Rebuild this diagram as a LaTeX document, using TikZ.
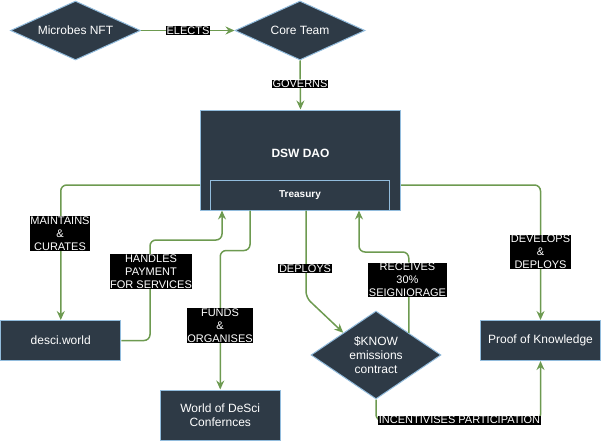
\documentclass[tikz,border=0pt]{standalone}
\usepackage{fontspec}
\setmainfont{Liberation Sans}
\usetikzlibrary{shapes.geometric,arrows.meta,calc}
\definecolor{fillc}{HTML}{2E3A46}
\definecolor{bordc}{HTML}{92BCDD}
\definecolor{edgec}{HTML}{6D9A50}
\begin{document}
\begin{tikzpicture}[x=1pt,y=-1pt,
 box/.style={draw=bordc, fill=fillc, line width=1pt, text=white, font=\fontsize{12}{14}\selectfont, align=center, inner sep=0pt},
 dia/.style={box, diamond, aspect=2},
 lbl/.style={fill=black, text=white, font=\fontsize{11}{13}\selectfont, align=center, inner sep=0.6pt},
 conn/.style={draw=edgec, line width=1.5pt, rounded corners=6pt, -{Stealth[length=9pt,width=8pt,inset=3pt]}}
]
\useasboundingbox (0,0) rectangle (601,441);
% nodes
\node[dia, minimum width=130pt, minimum height=59pt] (micro) at (75.5,30.5) {Microbes NFT};
\node[dia, minimum width=130pt, minimum height=59pt] (core) at (300,30.5) {Core Team};
\node[box, minimum width=200pt, minimum height=100pt] (dao) at (300.5,160) {};
\node[text=white, font=\fontsize{12}{14}\selectfont\bfseries] (daot) at (300.5,153) {DSW DAO};
\node[box, minimum width=179pt, minimum height=30pt, font=\fontsize{10}{12}\selectfont\bfseries] (treas) at (300,195) {Treasury};
\node[box, minimum width=120pt, minimum height=40pt] (desci) at (60.75,340.5) {desci.world};
\node[box, minimum width=120pt, minimum height=50pt] (world) at (220.25,415) {World of DeSci\\Confernces};
\node[box, diamond, aspect=1.5, minimum width=130pt, minimum height=88pt] (know) at (376,355) {\$KNOW\\emissions\\contract};
\node[box, minimum width=120pt, minimum height=40pt] (pok) at (540.5,340.5) {Proof of Knowledge};
% connectors
\draw[conn] (micro.east) -- (core.west);
\draw[conn] (core.south) -- (dao.north);
\draw[conn] ([yshift=-25pt]dao.west) -| (desci.north);
\draw[conn] (desci.east) -| (150,240) -| ([xshift=12pt]treas.south west);
\draw[conn] ([xshift=50pt]dao.south west) -- ++(0,40) -| (world.north);
\draw[conn] ([xshift=106pt]dao.south west) -- ++(0,87) -- (know.north west);
\draw[conn] (know.north east) -- (know.north east |- 0,252) -| ([xshift=149pt]treas.south west);
\draw[conn] ([yshift=-25pt]dao.east) -| (pok.north);
\draw[conn] (know.south) -- ++(0,21) -| (pok.south);
% labels
\node[lbl] (l1) at (188,30.5) {ELECTS};
\node[lbl] (l2) at (300,84) {GOVERNS};
\node[lbl] (l3) at (60,233.5) {MAINTAINS\\\&\\CURATES};
\node[lbl] (l4) at (151,271.5) {HANDLES\\PAYMENT\\FOR SERVICES};
\node[lbl] (l5) at (220,325.5) {FUNDS\\\&\\ORGANISES};
\node[lbl] (l6) at (305,268.5) {DEPLOYS};
\node[lbl] (l7) at (407.5,280) {RECEIVES\\30\%\\SEIGNIORAGE};
\node[lbl] (l8) at (540.5,252) {DEVELOPS\\\&\\DEPLOYS};
\node[lbl] (l9) at (459.5,420) {INCENTIVISES PARTICIPATION};
\end{tikzpicture}
\end{document}
